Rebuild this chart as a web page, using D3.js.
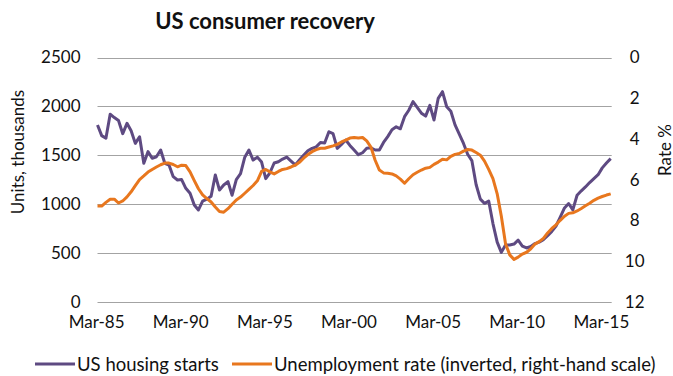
<!DOCTYPE html>
<html>
<head>
<meta charset="utf-8">
<script src="https://cdn.jsdelivr.net/npm/d3@7"></script>
<style>
  html, body { margin: 0; padding: 0; background: #fff; }
  svg { display: block; }
  text { font-family: Lato, "Open Sans", sans-serif; fill: #111; }
</style>
</head>
<body>
<svg id="chart" width="673" height="376"></svg>
<script>
// Quarterly housing starts (annualised, thousands), Q1 1985 – Q4 2015
const housingStarts = [
  1809, 1700, 1673, 1920, 1885, 1855, 1720, 1826, 1750, 1621,
  1689, 1417, 1536, 1468, 1484, 1553, 1417, 1399, 1280, 1246,
  1250, 1161, 1110,  990,  939, 1030, 1050, 1080, 1297, 1143,
  1195, 1229, 1090, 1250, 1310, 1480, 1553, 1450, 1480, 1430,
  1260, 1320, 1420, 1433, 1460, 1480, 1440, 1400, 1450, 1500,
  1545, 1570, 1585, 1630, 1625, 1740, 1720, 1570, 1610, 1655,
  1600, 1553, 1505, 1525, 1570, 1575, 1553, 1553, 1630, 1690,
  1760, 1790, 1770, 1894, 1960, 2048, 1990, 1930, 1900, 2010,
  1860, 2082, 2150, 1996, 1950, 1810, 1715, 1620, 1510, 1445,
  1200, 1050, 1007, 1030,  800,  610,  505,  580,  580,  590,
   630,  570,  550,  565,  595,  610,  635,  675,  720,  775,
   865,  960, 1005,  940, 1090, 1135, 1175, 1220, 1260, 1300,
  1370, 1420, 1465, 1495
];

// Quarterly unemployment rate (%), same periods
const unemploymentRate = [
  7.30, 7.30, 7.12, 6.97, 6.96, 7.15, 7.05, 6.85, 6.60, 6.30,
  6.00, 5.82, 5.63, 5.50, 5.38, 5.27, 5.19, 5.19, 5.26, 5.37,
  5.29, 5.31, 5.62, 6.05, 6.45, 6.75, 6.93, 7.10, 7.35, 7.57,
  7.60, 7.43, 7.21, 7.00, 6.86, 6.67, 6.48, 6.29, 6.06, 5.60,
  5.50, 5.62, 5.72, 5.60, 5.50, 5.46, 5.38, 5.29, 5.15, 4.95,
  4.77, 4.63, 4.53, 4.46, 4.46, 4.40, 4.34, 4.27, 4.15, 4.06,
  3.96, 3.93, 3.96, 3.93, 4.10, 4.40, 5.05, 5.53, 5.67, 5.69,
  5.72, 5.82, 5.98, 6.18, 5.96, 5.76, 5.64, 5.53, 5.44, 5.40,
  5.25, 5.14, 5.00, 5.03, 4.86, 4.76, 4.72, 4.60, 4.52, 4.55,
  4.67, 4.80, 5.09, 5.50, 5.95, 6.70, 7.80, 9.15, 9.70, 9.92,
  9.81, 9.66, 9.57, 9.40, 9.17, 9.05, 8.89, 8.62, 8.40, 8.22,
  8.00, 7.80, 7.66, 7.63, 7.54, 7.42, 7.29, 7.16, 7.02, 6.91,
  6.83, 6.76, 6.70, 6.60
];

const xTickLabels = ["Mar-85", "Mar-90", "Mar-95", "Mar-00", "Mar-05", "Mar-10", "Mar-15"];
const leftTicks = [0, 500, 1000, 1500, 2000, 2500];
const rightTicks = [0, 2, 4, 6, 8, 10, 12];

const seriesNames = ["US housing starts", "Unemployment rate (inverted, right-hand scale)"];
const colors = { housing: "#5E4A82", unemployment: "#E8771E" };

// Quarter-end months, March 1985 onwards
const quarters = d3.timeMonth.every(3).range(new Date(1985, 2, 1), new Date(2016, 0, 1));
const parseLabel = d3.timeParse("%b-%y");

const svg = d3.select("#chart");

const plot = { left: 97.5, right: 610.7, top: 57.5, bottom: 301.7 };

const x = d3.scaleTime()
  .domain([quarters[0], quarters[quarters.length - 1]])
  .range([plot.left, plot.right]);

const yLeft = d3.scaleLinear().domain([0, 2500]).range([plot.bottom, plot.top]);
const yRight = d3.scaleLinear().domain([0, 12]).range([plot.top, plot.bottom]); // inverted

// Title
svg.append("text")
  .attr("x", 265).attr("y", 29)
  .attr("text-anchor", "middle")
  .style("font-size", "22px").style("font-weight", "700")
  .text("US consumer recovery");

// Gridlines
svg.append("g")
  .selectAll("line")
  .data(leftTicks)
  .join("line")
  .attr("x1", plot.left).attr("x2", plot.right + 1)
  .attr("y1", d => Math.round(yLeft(d)) + 0.5)
  .attr("y2", d => Math.round(yLeft(d)) + 0.5)
  .attr("stroke", "#a3a3a3").attr("stroke-width", 1);

// Left axis
const leftAxis = svg.append("g")
  .attr("transform", `translate(${plot.left - 10},0)`)
  .call(d3.axisLeft(yLeft).tickValues(leftTicks).tickFormat(d3.format("d")).tickSize(0).tickPadding(7));
leftAxis.select(".domain").remove();
leftAxis.selectAll("text")
  .style("font-family", "Lato, sans-serif").style("font-size", "17px").attr("fill", "#111");

// Right axis
const rightAxis = svg.append("g")
  .attr("transform", `translate(${plot.right + 14},0)`)
  .call(d3.axisRight(yRight).tickValues(rightTicks).tickSize(0).tickPadding(0));
rightAxis.select(".domain").remove();
rightAxis.selectAll("text")
  .attr("text-anchor", "middle").attr("x", 10)
  .style("font-family", "Lato, sans-serif").style("font-size", "17px").attr("fill", "#111");

// Bottom axis
const bottomAxis = svg.append("g")
  .attr("transform", `translate(0,${plot.bottom + 9})`)
  .call(d3.axisBottom(x)
    .tickValues(xTickLabels.map(parseLabel))
    .tickFormat(d3.timeFormat("%b-%y"))
    .tickSize(0).tickPadding(5));
bottomAxis.select(".domain").remove();
bottomAxis.selectAll("text")
  .style("font-family", "Lato, sans-serif").style("font-size", "17px").attr("fill", "#111");

// Axis titles
svg.append("text")
  .attr("transform", "translate(17,152) rotate(-90)")
  .attr("text-anchor", "middle").attr("dominant-baseline", "central")
  .style("font-size", "17px")
  .text("Units, thousands");

svg.append("text")
  .attr("transform", "translate(664,150) rotate(-90)")
  .attr("text-anchor", "middle").attr("dominant-baseline", "central")
  .style("font-size", "17px")
  .text("Rate %");

// Lines
const housingLine = d3.line()
  .x((d, i) => x(quarters[i]))
  .y(d => yLeft(d));

const rateLine = d3.line()
  .x((d, i) => x(quarters[i]))
  .y(d => yRight(d));

svg.append("path")
  .datum(housingStarts)
  .attr("d", housingLine)
  .attr("fill", "none")
  .attr("stroke", colors.housing)
  .attr("stroke-width", 3)
  .attr("stroke-linejoin", "round");

svg.append("path")
  .datum(unemploymentRate)
  .attr("d", rateLine)
  .attr("fill", "none")
  .attr("stroke", colors.unemployment)
  .attr("stroke-width", 3)
  .attr("stroke-linejoin", "round");

// Legend
const legendItems = [
  { name: seriesNames[0], color: colors.housing, x: 35 },
  { name: seriesNames[1], color: colors.unemployment, x: 232 }
];
const legend = svg.append("g").attr("transform", "translate(0,364)");
legendItems.forEach(item => {
  legend.append("line")
    .attr("x1", item.x).attr("x2", item.x + 40)
    .attr("y1", 0).attr("y2", 0)
    .attr("stroke", item.color).attr("stroke-width", 3);
  legend.append("text")
    .attr("x", item.x + 42).attr("y", 0)
    .attr("dominant-baseline", "central")
    .style("font-size", "18.5px")
    .text(item.name);
});
</script>
</body>
</html>
